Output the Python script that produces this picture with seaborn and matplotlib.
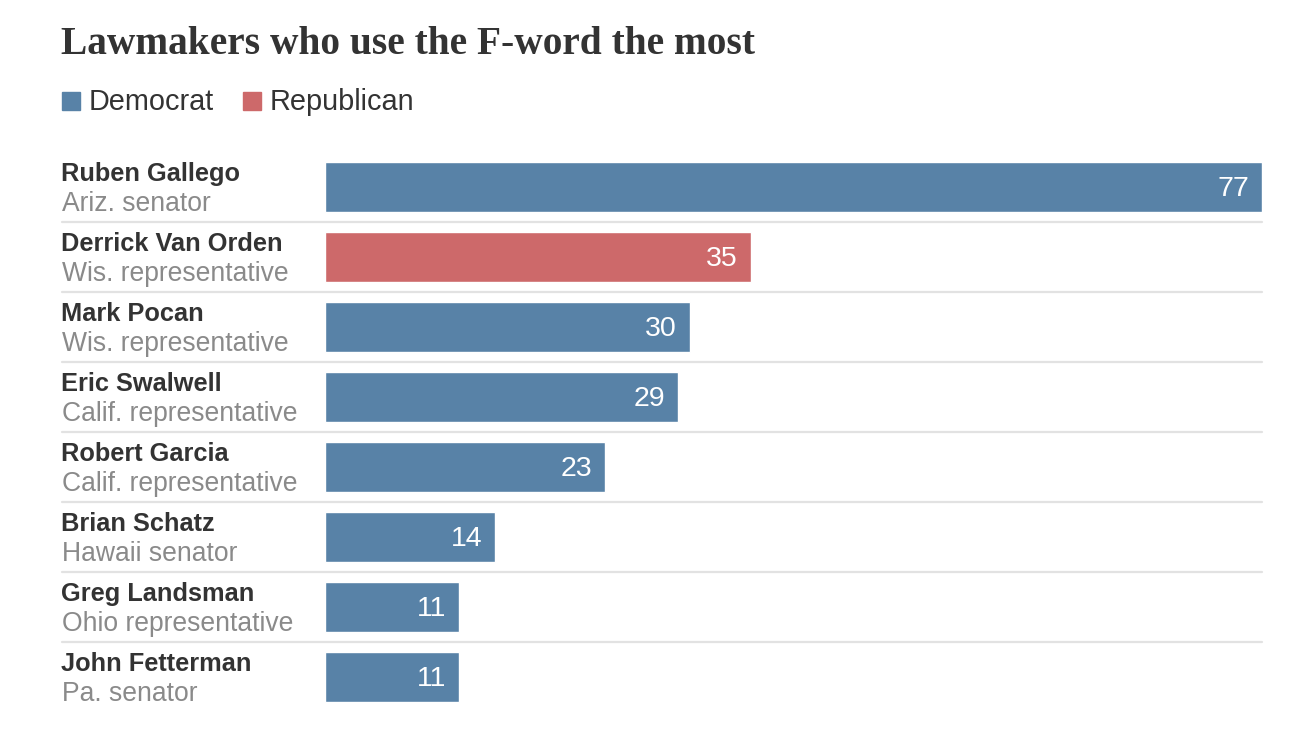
import matplotlib
matplotlib.use("Agg")
import matplotlib.pyplot as plt
import matplotlib.transforms as mtransforms
from matplotlib.patches import Rectangle
import seaborn as sns
import pandas as pd

names = ["Ruben Gallego", "Derrick Van Orden", "Mark Pocan", "Eric Swalwell",
         "Robert Garcia", "Brian Schatz", "Greg Landsman", "John Fetterman"]
roles = ["Ariz. senator", "Wis. representative", "Wis. representative",
         "Calif. representative", "Calif. representative", "Hawaii senator",
         "Ohio representative", "Pa. senator"]
counts = [77, 35, 30, 29, 23, 14, 11, 11]
parties = ["Democrat", "Republican", "Democrat", "Democrat",
           "Democrat", "Democrat", "Democrat", "Democrat"]

colors = {"Democrat": "#5882a7", "Republican": "#cd696a"}

df = pd.DataFrame({"name": names, "role": roles, "count": counts, "party": parties})

sns.set_theme(style="white")
plt.rcParams["font.family"] = ["Liberation Sans", "DejaVu Sans"]

W, H = 1304, 750
fig = plt.figure(figsize=(W / 100, H / 100), dpi=100)
ax = fig.add_axes([325 / W, 1 - 711.5 / H, 937 / W, 560 / H])

sns.barplot(data=df, x="count", y="name", hue="party", palette=colors,
            dodge=False, width=50 / 70, legend=False, ax=ax, saturation=1,
            order=names)

n = len(names)
ax.set_xlim(0, 77)
ax.set_ylim(n - 0.5, -0.5)
ax.axis("off")

trans = mtransforms.blended_transform_factory(fig.transFigure, ax.transData)
px = lambda v: v / W

for i, (nm, rl, c) in enumerate(zip(names, roles, counts)):
    ax.text(px(61), i - 0.185, nm, transform=trans, ha="left", va="center",
            fontsize=18.3, fontweight="bold", color="#333333")
    ax.text(px(62), i + 0.245, rl, transform=trans, ha="left", va="center",
            fontsize=19.1, color="#8a8a8a")
    ax.annotate(str(c), xy=(c, i), xytext=(-13, -2), textcoords="offset pixels",
                ha="right", va="center", fontsize=20.5, color="white")
    if i < n - 1:
        ax.plot([px(62), px(1262)], [i + 0.5, i + 0.5], transform=trans,
                color="#e2e2e2", lw=1.6, clip_on=False)

# title
fig.text(px(61), 1 - 44 / H, "Lawmakers who use the F-word the most",
         ha="left", va="center", fontsize=28.4, fontweight="bold", color="#333333",
         family=["Liberation Serif"])

# legend
for x0, label, key in [(62, "Democrat", "Democrat"), (243, "Republican", "Republican")]:
    fig.patches.append(Rectangle((px(x0), 1 - 110 / H), 18 / W, 18 / H,
                                 transform=fig.transFigure, color=colors[key]))
    fig.text(px(x0 + 27), 1 - 102.5 / H, label, ha="left", va="center",
             fontsize=20.8, color="#333333")

fig.savefig("out.png", dpi=100, facecolor="white")
